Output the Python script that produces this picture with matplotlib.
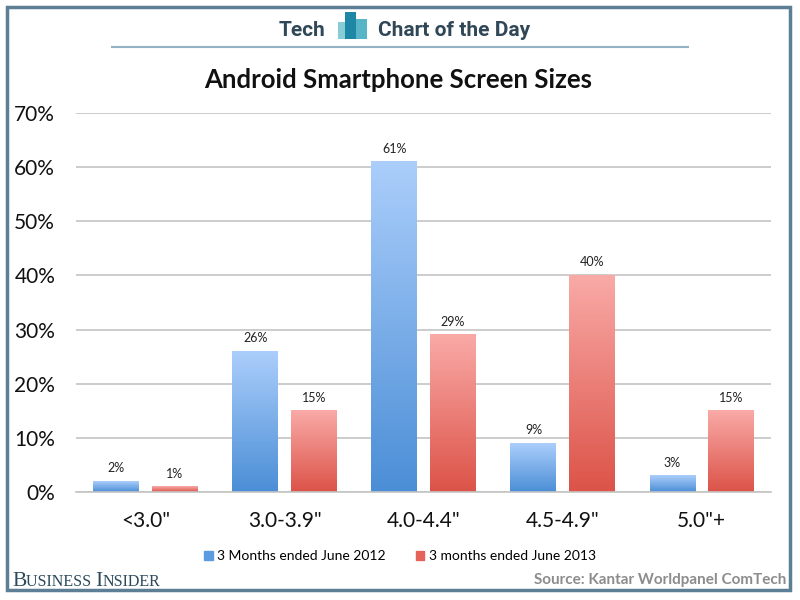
import matplotlib.pyplot as plt
import matplotlib.patches as mpatches
from matplotlib.colors import LinearSegmentedColormap
import numpy as np

categories = ['<3.0"', '3.0-3.9"', '4.0-4.4"', '4.5-4.9"', '5.0"+']
share_2012 = [2, 26, 61, 9, 3]
share_2013 = [1, 15, 29, 40, 15]
series_names = ["3 Months ended June 2012", "3 months ended June 2013"]
y_ticks = [0, 10, 20, 30, 40, 50, 60, 70]

plt.rcParams['font.family'] = ['Lato', 'DejaVu Sans']

fig = plt.figure(figsize=(8, 6), dpi=100)
ax = fig.add_axes([0.095, 0.18, 0.869, 0.6317])

x = np.arange(len(categories))
width = 0.33
offset = 0.21

blue_cmap = LinearSegmentedColormap.from_list("b", ["#4b8ed6", "#abcefb"])
red_cmap = LinearSegmentedColormap.from_list("r", ["#dc5348", "#f9aaa7"])
grad = np.linspace(0, 1, 256).reshape(-1, 1)


def gradient_bars(bars, cmap):
    # paint each bar with its own vertical gradient (light on top)
    for b in bars:
        x0, y0 = b.get_x(), b.get_y()
        w, h = b.get_width(), b.get_height()
        b.set_facecolor("none")
        ax.imshow(grad, cmap=cmap, origin="lower", aspect="auto",
                  extent=(x0, x0 + w, y0, y0 + h), zorder=2)


bars1 = ax.bar(x - offset, share_2012, width, zorder=2, linewidth=0)
bars2 = ax.bar(x + offset, share_2013, width, zorder=2, linewidth=0)
gradient_bars(bars1, blue_cmap)
gradient_bars(bars2, red_cmap)

for bars, vals in ((bars1, share_2012), (bars2, share_2013)):
    for b, v in zip(bars, vals):
        ax.annotate(f"{v}%", (b.get_x() + b.get_width() / 2, v),
                    xytext=(0, 5), textcoords="offset points",
                    ha="center", va="bottom", fontsize=9, color="#222222")

ax.set_xlim(-0.5, len(categories) - 0.5)
ax.set_ylim(0, 70)
ax.set_yticks(y_ticks)
ax.set_yticklabels([f"{t}%" for t in y_ticks], fontsize=15, color="#111111")
ax.set_xticks(x)
ax.set_xticklabels(categories, fontsize=15, color="#111111")
ax.tick_params(axis="y", length=0, pad=15)
ax.tick_params(axis="x", length=0, pad=14)
ax.grid(axis="y", color="#c4c4c4", linewidth=1.2, zorder=0)
ax.set_axisbelow(True)
for s in ["top", "right", "left"]:
    ax.spines[s].set_visible(False)
ax.spines["bottom"].set_color("#c4c4c4")
ax.spines["bottom"].set_linewidth(1.2)

# legend
handles = [mpatches.Patch(color="#5d9be0"), mpatches.Patch(color="#e4645b")]
fig.legend(handles, series_names, loc="center", bbox_to_anchor=(0.5, 0.073),
           ncol=2, frameon=False, fontsize=10, handlelength=0.6, handleheight=0.6,
           handletextpad=0.3, columnspacing=2.2)

# title
fig.text(0.498, 0.867, "Android Smartphone Screen Sizes", ha="center", va="center",
         fontsize=18.5, fontweight="bold", color="#111111")

# header
hdr_color = "#2f4756"
fig.text(325 / 800, 1 - 30 / 600, "Tech", ha="right", va="center", fontsize=15,
         fontweight="bold", color=hdr_color, family=["Roboto", "DejaVu Sans"])
fig.text(378 / 800, 1 - 30 / 600, "Chart of the Day", ha="left", va="center", fontsize=15,
         fontweight="bold", color=hdr_color, family=["Roboto", "DejaVu Sans"])
icon = [(338, 22, 10, "#86cdd5"), (352, 19, 15, "#58b5c8"), (345, 12, 11, "#1d87a5")]
for ix, iy, iw, ic in icon:
    fig.patches.append(mpatches.Rectangle((ix / 800, 1 - 39 / 600), iw / 800, (39 - iy) / 600,
                                          transform=fig.transFigure, color=ic, lw=0))
fig.add_artist(plt.Line2D([112 / 800, 688 / 800], [1 - 47 / 600, 1 - 47 / 600],
                          transform=fig.transFigure, color="#93b3c3", lw=1.5))

# frame
fig.patches.append(mpatches.Rectangle((7 / 800, 1 - 590 / 600), 783 / 800, 583 / 600,
                                      transform=fig.transFigure, fill=False,
                                      edgecolor="#5c7f96", lw=2.5))

# footer: fake small caps, pieces laid out on one baseline
bi_color = "#2b4a5c"
serif = ["Liberation Serif", "DejaVu Serif"]
renderer = fig.canvas.get_renderer()
x_px = 12
for part, size in (("B", 15.5), ("USINESS ", 11.5), ("I", 15.5), ("NSIDER", 11.5)):
    txt = fig.text(x_px / 800, 1 - 586 / 600, part, fontsize=size, color=bi_color,
                   family=serif, va="baseline", ha="left")
    x_px += txt.get_window_extent(renderer).width

fig.text(786 / 800, 1 - 580 / 600, "Source: Kantar Worldpanel ComTech", ha="right",
         va="center", fontsize=11, fontweight="bold", color="#8c8c8c")

fig.savefig("out.png", dpi=100)
